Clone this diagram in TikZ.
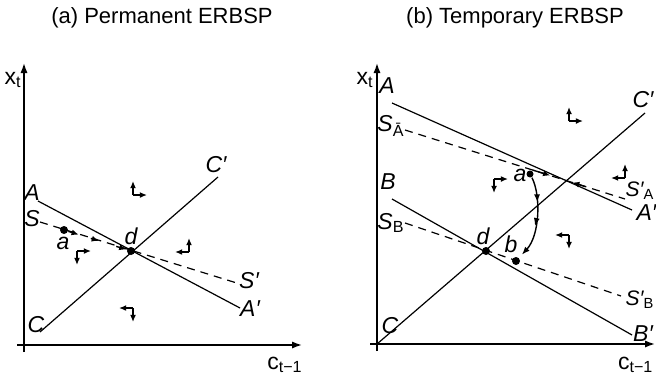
\documentclass[tikz,border=0pt]{standalone}
\usepackage{fontspec}
\setmainfont{Liberation Sans}
\usetikzlibrary{arrows.meta,calc,decorations.markings}

\begin{document}
\begin{tikzpicture}[x=0.5pt,y=-0.5pt,line width=0.6pt,
        axis/.style={line width=0.8pt,-{Latex[length=5pt,width=3.6pt]}},
        saddle/.style={dash pattern=on 4pt off 3pt},
        phase/.style={line width=0.7pt,-{Latex[length=3.6pt,width=3pt]}},
        traj/.style={line width=0.7pt,-{Latex[length=4pt,width=3pt]},shorten >=2pt,
            postaction={decorate},decoration={markings,
                mark=at position 0.3 with {\arrow{Latex[length=4pt,width=3pt]}},
                mark=at position 0.58 with {\arrow{Latex[length=4pt,width=3pt]}}}},
        dot/.style={circle,fill,inner sep=0pt,minimum size=4pt},
        lbl/.style={font=\itshape\fontsize{11.5}{13}\selectfont,inner sep=1pt},
        ax/.style={font=\fontsize{11.5}{13}\selectfont,inner sep=1pt},
        ttl/.style={font=\fontsize{11}{13}\selectfont}]
        \useasboundingbox (0,0) rectangle (656,380);

        % Coordinates, panel (a)
        \coordinate (aY0) at (24,352);
        \coordinate (aY1) at (24,63);
        \coordinate (aX0) at (17,345);
        \coordinate (aX1) at (302,345);
        \coordinate (aA0) at (38,201);
        \coordinate (aA1) at (240,308);
        \coordinate (aS0) at (40,222);
        \coordinate (aS1) at (240,284);
        \coordinate (aC0) at (40,332);
        \coordinate (aC1) at (218,177);

        % Coordinates, panel (b)
        \coordinate (bY0) at (377,351);
        \coordinate (bY1) at (377,63);
        \coordinate (bX0) at (370,344);
        \coordinate (bX1) at (655,344);
        \coordinate (bA0) at (392,103);
        \coordinate (bA1) at (632,210);
        \coordinate (bSA0) at (405,130);
        \coordinate (bSA1) at (625,199);
        \coordinate (bB0) at (392,199);
        \coordinate (bB1) at (632,335);
        \coordinate (bSB0) at (405,223);
        \coordinate (bSB1) at (621,296);
        \coordinate (bC0) at (377,344);
        \coordinate (bC1) at (645,113);

        % Titles
        \node[ttl] (ttlA) at (162,18) {(a) Permanent ERBSP};
        \node[ttl] (ttlB) at (515,18) {(b) Temporary ERBSP};

        % Panel (a)
        \draw[axis] (aY0) -- (aY1);
        \draw[axis] (aX0) -- (aX1);
        \node[ax] (aXt) at (13,80) {x\textsubscript{t}};
        \node[ax] (aCt) at (285,365) {c\textsubscript{t−1}};
        \draw (aA0) -- (aA1);
        \draw[saddle] (aS0) -- (aS1);
        \draw (aC0) -- (aC1);
        \node[dot] (dA) at (131,251) {};
        \node[dot] (aA) at (64,230) {};
        \draw[phase] (aA) -- ($(aA)!0.22!(dA)$);
        \draw[phase] ($(aA)!0.40!(dA)$) -- ($(aA)!0.52!(dA)$);
        \draw[phase] ($(aA)!0.78!(dA)$) -- ($(aA)!0.93!(dA)$);
        \node[lbl] (lA) at (32,193) {A};
        \node[lbl] (lS) at (32,219) {S};
        \node[lbl] (lC) at (36,325) {C};
        \node[lbl] (lCp) at (216,165) {C′};
        \node[lbl] (lAp) at (250,309) {A′};
        \node[lbl] (lSp) at (249,281) {S′};
        \node[lbl] (ld) at (131,236) {d};
        \node[lbl] (la) at (63,243) {a};
        \foreach \cx/\cy/\dx/\dy in {133/195/1/-1, 189/252/-1/-1, 77/251/1/1, 133/308/-1/1}
        {
            \draw[phase] (\cx,\cy) -- ++({14*\dx},0);
            \draw[phase] (\cx,\cy) -- ++(0,{14*\dy});
        }

        % Panel (b)
        \draw[axis] (bY0) -- (bY1);
        \draw[axis] (bX0) -- (bX1);
        \node[ax] (bXt) at (365,80) {x\textsubscript{t}};
        \node[ax,anchor=east] (bCt) at (656,365) {c\textsubscript{t−1}};
        \draw (bA0) -- (bA1);
        \draw[saddle] (bSA0) -- (bSA1);
        \draw (bB0) -- (bB1);
        \draw[saddle] (bSB0) -- (bSB1);
        \draw (bC0) -- (bC1);
        \draw[phase] ($(bSA0)!0.58!(bSA1)$) -- ($(bSA0)!0.66!(bSA1)$);
        \draw[phase] ($(bSA0)!0.82!(bSA1)$) -- ($(bSA0)!0.76!(bSA1)$);
        \node[dot] (dB) at (486,251) {};
        \node[dot] (bB) at (516,261) {};
        \node[dot,minimum size=3.5pt] (aB) at (530,174) {};
        \draw[traj] (aB) .. controls (541,195) and (540,235) .. (bB);
        \node[lbl] (lA2) at (387,86) {A};
        \node[lbl] (lSA) at (391,126) {S\textsubscript{\upshape Ā}};
        \node[lbl] (lB2) at (388,182) {B};
        \node[lbl] (lSB) at (391,223) {S\textsubscript{\upshape B}};
        \node[lbl] (lC2) at (390,326) {C};
        \node[lbl] (lCp2) at (643,100) {C′};
        \node[lbl,anchor=west] (lAp2) at (634,213) {A′};
        \node[lbl,anchor=east,font=\itshape\fontsize{10.5}{12}\selectfont,inner sep=0.5pt] (lSAp) at (656,191) {S′\textsubscript{\upshape A}};
        \node[lbl,anchor=east,font=\itshape\fontsize{10.5}{12}\selectfont,inner sep=0.5pt] (lSBp) at (656,300) {S′\textsubscript{\upshape B}};
        \node[lbl] (lBp2) at (643,334) {B′};
        \node[lbl] (ld2) at (483,236) {d};
        \node[lbl] (lb2) at (511,244) {b};
        \node[lbl] (la2) at (520,175) {a};
        \foreach \cx/\cy/\dx/\dy in {569/121/1/-1, 625/178/-1/-1, 494/179/1/1, 569/235/-1/1}
        {
            \draw[phase] (\cx,\cy) -- ++({14*\dx},0);
            \draw[phase] (\cx,\cy) -- ++(0,{14*\dy});
        }
\end{tikzpicture}
\end{document}
